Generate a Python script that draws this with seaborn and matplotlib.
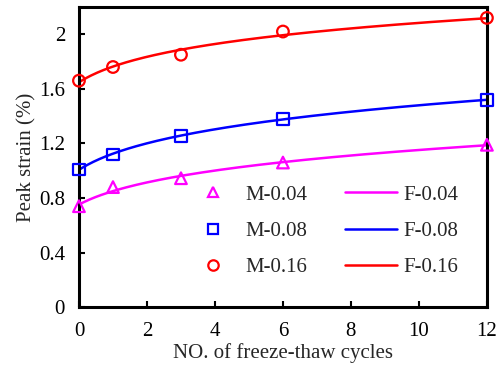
import numpy as np
import pandas as pd
import matplotlib
matplotlib.use("Agg")
import matplotlib.pyplot as plt
import seaborn as sns

# Peak strain (%) measured after each number of freeze-thaw cycles
cycles = [0, 1, 3, 6, 12]
m004 = [0.74, 0.88, 0.945, 1.06, 1.19]
m008 = [1.01, 1.12, 1.255, 1.38, 1.52]
m016 = [1.66, 1.76, 1.85, 2.02, 2.12]

labels = ["0.04", "0.08", "0.16"]
colors = ["#ff00ff", "#0000ff", "#ff0000"]
markers = ["^", "s", "o"]

sns.set_theme(style="white")
plt.rcParams["font.family"] = ["Liberation Serif", "DejaVu Serif"]

FS = 15

fig, ax = plt.subplots(figsize=(5.03, 3.67), dpi=100)
fig.subplots_adjust(left=0.157, right=0.968, top=0.981, bottom=0.163)

series = [m004, m008, m016]
xs = np.linspace(0, 12, 200)
point_handles, line_handles = [], []
for lab, col, mk, ys in zip(labels, colors, markers, series):
    # power-law fit y = a (N+1)^b to the measured points
    b, loga = np.polyfit(np.log(np.array(cycles) + 1.0), np.log(ys), 1)
    fit = pd.DataFrame({"x": xs, "y": np.exp(loga) * (xs + 1.0) ** b})
    sns.lineplot(data=fit, x="x", y="y", ax=ax, color=col, lw=1.8)
    pts = pd.DataFrame({"x": cycles, "y": ys})
    sns.scatterplot(data=pts, x="x", y="y", ax=ax, marker=mk, s=70,
                    facecolor="none", edgecolor=col, linewidth=1.6, zorder=5,
                    clip_on=False)
    point_handles.append(plt.Line2D([], [], ls="none", marker=mk, ms=7.5,
                                    mfc="none", mec=col, mew=1.6,
                                    label="M-" + lab))
    line_handles.append(plt.Line2D([], [], color=col, lw=1.8,
                                   label="F-" + lab))

ax.set_xlim(0, 12)
ax.set_ylim(0, 2.2)
ax.set_xticks([0, 2, 4, 6, 8, 10, 12])
ax.set_yticks([0, 0.4, 0.8, 1.2, 1.6, 2.0])
ax.set_yticklabels(["0", "0.4", "0.8", "1.2", "1.6", "2"])
ax.tick_params(direction="in", length=4, width=1.5, labelsize=FS,
               colors="black", bottom=True, left=True)
ax.tick_params(axis="x", pad=11)
ax.tick_params(axis="y", pad=10)
for sp in ax.spines.values():
    sp.set_color("black")
    sp.set_linewidth(2.2)

ax.set_xlabel("NO. of freeze-thaw cycles", fontsize=FS, labelpad=1)
ax.set_ylabel("Peak strain (%)", fontsize=FS, labelpad=2)

ax.legend(handles=point_handles + line_handles, ncol=2, frameon=False,
          fontsize=FS, loc="lower right", bbox_to_anchor=(0.93, 0.10),
          borderaxespad=0, borderpad=0,
          handlelength=2.5, handletextpad=0.3, columnspacing=1.8,
          labelspacing=0.8)

fig.savefig("out.png", dpi=100)
